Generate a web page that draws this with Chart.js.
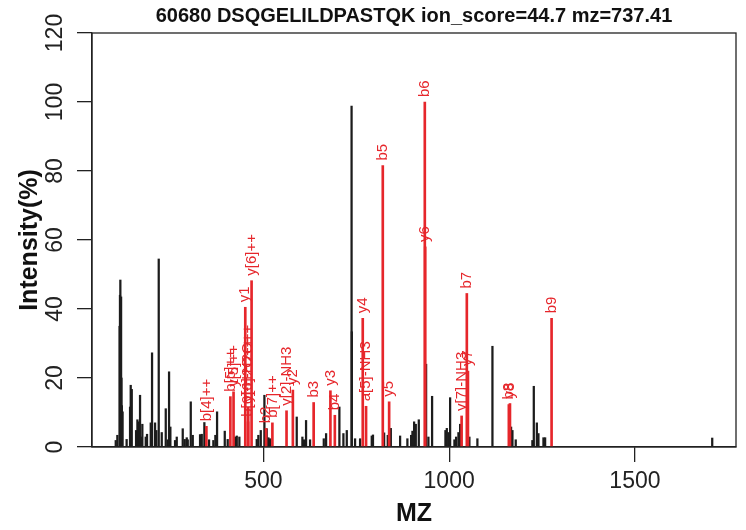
<!DOCTYPE html>
<html>
<head>
<meta charset="utf-8">
<script src="https://cdn.jsdelivr.net/npm/chart.js@4.4.1/dist/chart.umd.min.js"></script>
<style>
html, body { margin: 0; padding: 0; background: #fff; }
</style>
</head>
<body>
<canvas id="spectrumChart" width="746" height="530"></canvas>
<script>
const chartTitle = '60680 DSQGELILDPASTQK ion_score=44.7 mz=737.41';

// unmatched peaks (m/z, relative intensity %)
const peakMz = [102.7, 107, 113.1, 114.1, 115.1, 116.1, 117.1, 118.1, 119.1, 121.1,
    132, 141.2, 143, 145.8, 157.4, 161, 164.6, 168.1, 171.6, 174.3, 183.4, 186.9,
    196.9, 200.4, 208.5, 212, 218.4, 226.5, 237.3, 242.7, 246.2, 249.7, 262.3,
    266.9, 283, 288.4, 293.8, 296.5, 304.6, 310, 329.6, 334.2, 341.2, 353.8,
    365.4, 370.8, 375.4, 396.1, 404, 423.8, 428.4, 435.4, 482.2, 486.5, 493,
    502.8, 509, 513.5, 518, 589.8, 605, 609.6, 614.9, 625.7, 662.6, 668.8,
    704.6, 715.4, 724.5, 737.4, 738.1, 746.8, 760.3, 791.7, 795, 825, 834.8,
    843, 868, 887.6, 897.6, 901.2, 905.7, 910.2, 918.3, 938, 944.2, 954.1,
    990, 993.7, 998.1, 1002.6, 1014.2, 1018.7, 1025, 1029.6, 1054.5, 1076,
    1116.5, 1166.7, 1170.3, 1179.2, 1224, 1227.8, 1236, 1240.3, 1253.8, 1258.3,
    1708];
const peakIntensity = [1.9, 3.4, 35, 44, 48.4, 30, 43.5, 20, 12, 10.2,
    2.2, 11.6, 17.9, 16.7, 4.8, 7.9, 7.3, 15.0, 2.9, 6.6, 2.9, 3.7,
    7.0, 27.3, 7.0, 4.8, 54.5, 4.2, 11.1, 2.1, 21.8, 5.8, 1.9,
    2.9, 5.3, 2.2, 2.7, 2.1, 13.1, 3.4, 3.6, 3.7, 7.1, 2.1,
    1.9, 3.4, 10.2, 4.6, 2.2, 2.9, 3.2, 2.9, 2.2, 3.4, 4.8,
    15.0, 5.3, 2.7, 2.4, 8.7, 2.9, 2.1, 7.7, 2.1, 2.4, 3.9,
    11.6, 3.9, 4.8, 98.8, 33.4, 2.4, 2.4, 3.2, 3.5, 4.1, 3.4,
    5.4, 3.2, 2.4, 3.4, 4.6, 7.3, 6.6, 7.9, 24.0, 2.9, 14.7,
    4.8, 5.4, 4.2, 14.3, 2.1, 2.9, 4.2, 6.6, 2.9, 2.4,
    29.2, 5.8, 4.8, 2.1, 1.9, 17.6, 7.0, 3.9, 2.7, 2.7,
    2.6];

// matched fragment ions
const ionLabels = ['b[4]++', 'b[5]++', 'y[5]++', 'y1', 'b[6]-H2O++', 'y[6]-H2O++', 'y[6]++', 'b2', 'b[7]++',
    'y[2]-NH3', 'y2', 'b3', 'y3', 'b4', 'y4', 'a[5]-NH3', 'b5', 'y5', 'b6', 'y6',
    'y[7]-NH3', 'b7', 'y7', 'b8', 'y8', 'b9'];
const ionMz = [346.68, 411.20, 419.75, 451.32, 458.74, 459.27, 468.28, 507.27, 524.28,
    562.35, 579.38, 635.33, 680.42, 692.35, 767.46, 776.37, 821.39, 838.49, 934.48, 935.55,
    1033.55, 1047.56, 1050.57, 1160.65, 1163.66, 1275.67];
const ionIntensity = [6.0, 14.6, 16.0, 40.5, 7.3, 11.5, 48.2, 5.4, 7.0,
    10.5, 16.5, 12.9, 16.3, 9.2, 37.3, 11.8, 81.6, 13.1, 100, 58.0,
    9.0, 44.5, 22.0, 12.3, 12.6, 37.3];

const xTicks = [500, 1000, 1500];
const yTicks = [0, 20, 40, 60, 80, 100, 120];

const fontFamily = '"Liberation Sans", Arial, Helvetica, sans-serif';
const ionColor = '#e6262b';
const peakColor = '#1c1c1c';
const axisColor = '#222222';

const spectrumDecor = {
    id: 'spectrumDecor',
    afterDraw(chart) {
        const { ctx, chartArea, scales } = chart;
        ctx.save();
        ctx.strokeStyle = axisColor;
        ctx.lineWidth = 1.3;
        ctx.strokeRect(chartArea.left, chartArea.top, chartArea.width, chartArea.height);

        // ion annotations, rotated
        ctx.fillStyle = ionColor;
        ctx.font = '15px ' + fontFamily;
        ctx.textAlign = 'left';
        ctx.textBaseline = 'middle';
        ionLabels.forEach((label, i) => {
            const px = scales.x.getPixelForValue(ionMz[i]);
            const py = scales.y.getPixelForValue(ionIntensity[i]);
            ctx.save();
            ctx.translate(px, py - 5);
            ctx.rotate(-Math.PI / 2);
            ctx.fillText(label, 0, 0);
            ctx.restore();
        });

        // y tick labels are rotated like R's default
        ctx.fillStyle = '#222';
        ctx.font = '23px ' + fontFamily;
        ctx.textAlign = 'center';
        ctx.textBaseline = 'middle';
        yTicks.forEach(v => {
            const py = scales.y.getPixelForValue(v);
            ctx.save();
            ctx.translate(56, py);
            ctx.rotate(-Math.PI / 2);
            ctx.fillText(String(v), 0, 0);
            ctx.restore();
        });
        ctx.restore();
    }
};

const ctx = document.getElementById('spectrumChart').getContext('2d');
window.spectrumChart = new Chart(ctx, {
    type: 'bar',
    data: {
        datasets: [
            {
                label: 'matched',
                data: ionMz.map((m, i) => ({ x: m, y: ionIntensity[i] })),
                backgroundColor: ionColor,
                barThickness: 2,
                order: 0
            },
            {
                label: 'peaks',
                data: peakMz.map((m, i) => ({ x: m, y: peakIntensity[i] })),
                backgroundColor: peakColor,
                barThickness: 1.6,
                order: 1
            }
        ]
    },
    plugins: [spectrumDecor],
    options: {
        responsive: false,
        animation: false,
        devicePixelRatio: 1,
        layout: { padding: { left: 0, right: 10, top: 0, bottom: 0 } },
        datasets: { bar: { grouped: false } },
        plugins: {
            legend: { display: false },
            tooltip: { enabled: false },
            title: {
                display: true,
                text: chartTitle,
                fullSize: false,
                color: '#111',
                font: { family: fontFamily, size: 20, weight: 'bold', lineHeight: 1.2 },
                padding: { top: 4, bottom: 5 }
            }
        },
        scales: {
            x: {
                type: 'linear',
                min: 38.8,
                max: 1772,
                offset: false,
                afterBuildTicks: s => { s.ticks = xTicks.map(v => ({ value: v })); },
                afterFit: s => { s.height = 83; },
                grid: { offset: false, drawOnChartArea: false, drawTicks: true, tickLength: 15, color: axisColor, lineWidth: 1.3 },
                border: { display: true, color: axisColor, width: 1.3 },
                ticks: {
                    color: '#222',
                    padding: 6,
                    maxRotation: 0,
                    font: { family: fontFamily, size: 23 },
                    callback: v => String(v)
                },
                title: {
                    display: true,
                    text: 'MZ',
                    color: '#111',
                    font: { family: fontFamily, size: 25, weight: 'bold', lineHeight: 1.2 },
                    padding: { top: 0, bottom: 1 }
                }
            },
            y: {
                min: 0,
                max: 120,
                afterBuildTicks: s => { s.ticks = yTicks.map(v => ({ value: v })); },
                afterFit: s => { s.width = 92; },
                grid: { drawOnChartArea: false, drawTicks: true, tickLength: 15, color: axisColor, lineWidth: 1.3 },
                border: { display: true, color: axisColor, width: 1.3 },
                ticks: { display: false },
                title: {
                    display: true,
                    text: 'Intensity(%)',
                    color: '#111',
                    font: { family: fontFamily, size: 25, weight: 'bold', lineHeight: 1.2 },
                    padding: { top: 15, bottom: 0 }
                }
            }
        }
    }
});
</script>
</body>
</html>
